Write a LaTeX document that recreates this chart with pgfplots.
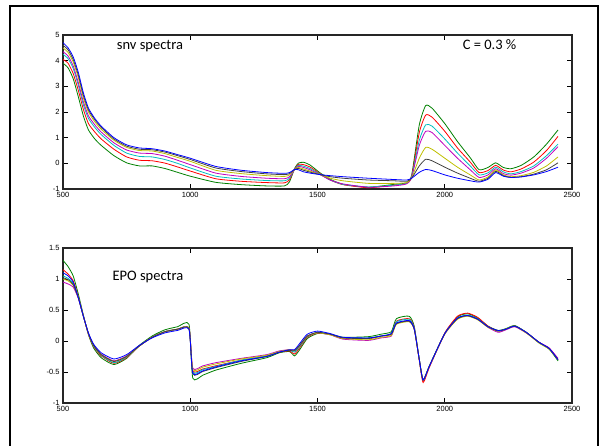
\documentclass[border=0pt]{standalone}
\usepackage{pgfplots}
\usepackage{pgfplotstable}
\usepackage{fontspec}
\setmainfont{Carlito}
\newfontfamily\tickfont{Liberation Sans}
\pgfplotsset{compat=1.18}

\definecolor{mlblue}{RGB}{0,0,255}
\definecolor{mlgreen}{RGB}{0,128,0}
\definecolor{mlred}{RGB}{255,0,0}
\definecolor{mlcyan}{RGB}{0,191,191}
\definecolor{mlmag}{RGB}{191,0,191}
\definecolor{mlyel}{RGB}{191,191,0}
\definecolor{mlgray}{RGB}{64,64,64}

% snv spectra: columns b k y m c r g
\pgfplotstableread{
x b k y m c r g
500 4.70 4.60 4.50 4.35 4.25 4.05 3.90
520 4.50 4.42 4.32 4.18 4.08 3.90 3.72
540 4.15 4.05 3.95 3.80 3.70 3.50 3.30
560 3.55 3.45 3.35 3.15 3.05 2.85 2.60
580 2.75 2.65 2.55 2.40 2.28 2.10 1.85
600 2.15 2.08 2.00 1.85 1.75 1.55 1.30
625 1.75 1.70 1.62 1.50 1.40 1.22 0.95
650 1.45 1.40 1.33 1.22 1.12 0.95 0.70
700 1.00 0.95 0.90 0.80 0.70 0.55 0.30
750 0.72 0.67 0.62 0.52 0.40 0.25 0.02
800 0.60 0.55 0.50 0.40 0.27 0.12 -0.10
850 0.57 0.53 0.48 0.38 0.25 0.10 -0.10
900 0.48 0.44 0.38 0.28 0.15 0.01 -0.20
950 0.34 0.30 0.23 0.12 0.00 -0.14 -0.35
1000 0.20 0.15 0.08 -0.05 -0.18 -0.30 -0.50
1100 -0.12 -0.18 -0.27 -0.38 -0.50 -0.60 -0.74
1200 -0.27 -0.32 -0.40 -0.51 -0.61 -0.70 -0.83
1300 -0.36 -0.41 -0.48 -0.58 -0.67 -0.75 -0.88
1370 -0.39 -0.44 -0.51 -0.60 -0.68 -0.76 -0.88
1390 -0.36 -0.40 -0.45 -0.52 -0.58 -0.64 -0.72
1410 -0.24 -0.24 -0.24 -0.24 -0.23 -0.22 -0.20
1425 -0.25 -0.20 -0.16 -0.12 -0.08 -0.04 0.01
1445 -0.33 -0.27 -0.22 -0.16 -0.11 -0.05 0.04
1470 -0.38 -0.34 -0.30 -0.25 -0.20 -0.14 -0.06
1510 -0.44 -0.44 -0.44 -0.44 -0.42 -0.40 -0.37
1550 -0.48 -0.52 -0.58 -0.65 -0.65 -0.65 -0.62
1600 -0.52 -0.58 -0.68 -0.80 -0.82 -0.83 -0.82
1700 -0.58 -0.65 -0.78 -0.93 -0.92 -0.95 -0.93
1800 -0.63 -0.68 -0.78 -0.88 -0.85 -0.85 -0.82
1850 -0.65 -0.70 -0.75 -0.80 -0.78 -0.78 -0.76
1870 -0.58 -0.58 -0.57 -0.55 -0.52 -0.50 -0.46
1900 -0.35 -0.10 0.20 0.70 0.90 1.20 1.50
1925 -0.24 0.16 0.62 1.25 1.50 1.88 2.25
1950 -0.28 0.10 0.55 1.20 1.45 1.80 2.15
2000 -0.45 -0.15 0.20 0.70 0.95 1.25 1.55
2050 -0.58 -0.38 -0.15 0.20 0.40 0.60 0.85
2100 -0.68 -0.58 -0.45 -0.25 -0.10 0.05 0.22
2135 -0.73 -0.70 -0.65 -0.55 -0.45 -0.36 -0.25
2170 -0.62 -0.58 -0.53 -0.45 -0.37 -0.28 -0.16
2200 -0.36 -0.31 -0.26 -0.21 -0.15 -0.08 0.02
2230 -0.50 -0.48 -0.45 -0.40 -0.33 -0.26 -0.16
2260 -0.55 -0.55 -0.52 -0.46 -0.41 -0.33 -0.21
2300 -0.53 -0.52 -0.48 -0.38 -0.32 -0.22 -0.08
2350 -0.45 -0.42 -0.35 -0.18 -0.10 0.05 0.25
2400 -0.32 -0.25 -0.10 0.20 0.30 0.50 0.75
2445 -0.15 0.02 0.25 0.65 0.75 1.05 1.30
}\snvdata

% EPO spectra
\pgfplotstableread{
x b k y m c r g
500 1.10 1.02 1.00 0.95 1.05 1.15 1.30
520 1.05 0.99 0.97 0.92 1.01 1.08 1.20
540 0.95 0.91 0.90 0.87 0.93 0.97 1.05
560 0.70 0.70 0.70 0.69 0.71 0.72 0.76
580 0.40 0.40 0.40 0.40 0.40 0.40 0.42
600 0.13 0.12 0.12 0.12 0.12 0.11 0.10
620 -0.05 -0.07 -0.07 -0.06 -0.08 -0.09 -0.11
650 -0.19 -0.22 -0.22 -0.21 -0.23 -0.24 -0.27
700 -0.29 -0.33 -0.33 -0.32 -0.35 -0.36 -0.38
750 -0.22 -0.25 -0.25 -0.24 -0.26 -0.27 -0.28
800 -0.07 -0.08 -0.08 -0.08 -0.08 -0.08 -0.07
850 0.05 0.06 0.06 0.06 0.06 0.06 0.08
900 0.13 0.15 0.15 0.15 0.15 0.15 0.18
950 0.17 0.19 0.19 0.19 0.19 0.19 0.23
995 0.19 0.20 0.21 0.21 0.21 0.21 0.27
1010 -0.52 -0.53 -0.46 -0.44 -0.50 -0.48 -0.60
1050 -0.48 -0.49 -0.42 -0.40 -0.46 -0.45 -0.55
1100 -0.42 -0.43 -0.37 -0.35 -0.41 -0.40 -0.47
1200 -0.32 -0.33 -0.29 -0.28 -0.31 -0.31 -0.36
1300 -0.25 -0.25 -0.23 -0.22 -0.24 -0.24 -0.27
1350 -0.18 -0.18 -0.17 -0.16 -0.17 -0.18 -0.19
1390 -0.14 -0.15 -0.14 -0.14 -0.15 -0.16 -0.17
1410 -0.14 -0.16 -0.15 -0.15 -0.18 -0.21 -0.24
1430 -0.04 -0.07 -0.07 -0.07 -0.09 -0.11 -0.14
1460 0.11 0.08 0.08 0.08 0.07 0.06 0.04
1500 0.16 0.14 0.13 0.13 0.14 0.13 0.12
1550 0.12 0.11 0.10 0.10 0.11 0.11 0.11
1600 0.06 0.05 0.04 0.03 0.05 0.05 0.06
1700 0.05 0.04 0.02 0.01 0.05 0.04 0.07
1750 0.08 0.08 0.06 0.05 0.08 0.08 0.11
1790 0.12 0.11 0.09 0.08 0.12 0.11 0.15
1810 0.29 0.28 0.27 0.28 0.31 0.32 0.36
1860 0.33 0.32 0.31 0.32 0.35 0.36 0.40
1880 0.20 0.19 0.19 0.19 0.21 0.22 0.24
1900 -0.30 -0.30 -0.30 -0.30 -0.30 -0.32 -0.30
1915 -0.63 -0.63 -0.63 -0.63 -0.63 -0.67 -0.63
1940 -0.40 -0.40 -0.40 -0.41 -0.40 -0.42 -0.40
2000 0.12 0.12 0.11 0.11 0.12 0.13 0.12
2050 0.37 0.36 0.35 0.36 0.37 0.40 0.39
2090 0.41 0.41 0.40 0.41 0.42 0.45 0.44
2130 0.35 0.35 0.34 0.35 0.36 0.38 0.37
2170 0.23 0.23 0.22 0.22 0.23 0.24 0.24
2210 0.17 0.16 0.16 0.14 0.16 0.16 0.17
2240 0.19 0.19 0.19 0.18 0.19 0.19 0.20
2275 0.24 0.24 0.24 0.23 0.24 0.24 0.25
2320 0.14 0.14 0.13 0.13 0.14 0.14 0.14
2370 -0.02 -0.02 -0.03 -0.02 -0.02 -0.02 -0.03
2410 -0.12 -0.12 -0.13 -0.11 -0.12 -0.12 -0.13
2445 -0.30 -0.30 -0.30 -0.28 -0.30 -0.30 -0.32
}\epodata

\pgfplotsset{
  spec/.style={
    scale only axis,
    width=509pt,
    anchor=south west,
    xmin=500, xmax=2500,
    xtick={500,1000,1500,2000,2500},
    axis line style={line width=1.6pt, black!85},
    tick style={black, line width=0.8pt},
    major tick length=5pt,
    tick label style={font=\tickfont\fontsize{7.5}{8}\selectfont},
    /pgf/number format/assume math mode=true,
    /pgf/number format/1000 sep={},
    scaled ticks=false,
    every axis plot/.append style={line width=0.8pt, smooth, tension=0.35, no marks},
  }
}

\begin{document}
\begin{tikzpicture}[x=1pt,y=1pt]
  \path[use as bounding box] (0,0) rectangle (602,445);
  \draw[line width=2.4pt, black] (10,-10) -- (10,439) -- (598,439) -- (598,-10);

  \begin{axis}[spec, at={(63pt,256pt)}, height=154pt,
      ymin=-1, ymax=5, ytick={-1,0,1,2,3,4,5}]
    \addplot[mlgreen] table[x=x,y=g] {\snvdata};
    \addplot[mlred]   table[x=x,y=r] {\snvdata};
    \addplot[mlcyan]  table[x=x,y=c] {\snvdata};
    \addplot[mlmag]   table[x=x,y=m] {\snvdata};
    \addplot[mlyel]   table[x=x,y=y] {\snvdata};
    \addplot[mlgray]  table[x=x,y=k] {\snvdata};
    \addplot[mlblue]  table[x=x,y=b] {\snvdata};
    \node[anchor=base west, font=\fontsize{14.5}{16}\selectfont] at (axis cs:698,4.42) {snv spectra};
    \node[anchor=base west, font=\fontsize{14.5}{16}\selectfont] at (axis cs:2057,4.42) {C = 0.3 \%};
  \end{axis}

  \begin{axis}[spec, at={(63pt,42pt)}, height=155pt,
      ymin=-1, ymax=1.5, ytick={-1,-0.5,0,0.5,1,1.5}]
    \addplot[mlgreen] table[x=x,y=g] {\epodata};
    \addplot[mlred]   table[x=x,y=r] {\epodata};
    \addplot[mlcyan]  table[x=x,y=c] {\epodata};
    \addplot[mlmag]   table[x=x,y=m] {\epodata};
    \addplot[mlyel]   table[x=x,y=y] {\epodata};
    \addplot[mlgray]  table[x=x,y=k] {\epodata};
    \addplot[mlblue]  table[x=x,y=b] {\epodata};
    \node[anchor=base west, font=\fontsize{14.5}{16}\selectfont] at (axis cs:681,0.968) {EPO spectra};
  \end{axis}
\end{tikzpicture}
\end{document}
